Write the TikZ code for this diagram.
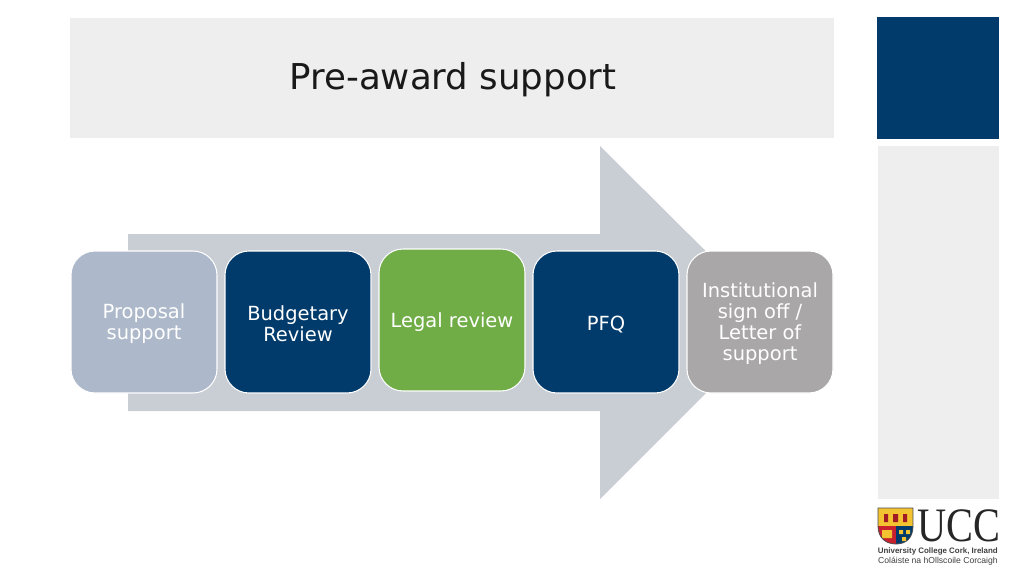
\documentclass[tikz,border=0pt]{standalone}
\usepackage{fontspec}
\setmainfont{DejaVu Sans}
\newfontfamily\logoserif{Liberation Serif}
\newfontfamily\logosans{Liberation Sans}
\usetikzlibrary{positioning}
\definecolor{uccblue}{HTML}{003B6B}
\definecolor{panelgrey}{HTML}{EEEEEE}
\definecolor{arrowgrey}{HTML}{C9CED4}
\definecolor{paleblue}{HTML}{ADB9CA}
\definecolor{legalgreen}{HTML}{70AD47}
\definecolor{signgrey}{HTML}{A9A7A8}
\definecolor{shieldyellow}{HTML}{F2C230}
\definecolor{shieldred}{HTML}{C8202F}
\newcommand{\stagetop}{\rule{0pt}{14pt}}

\begin{document}
\begin{tikzpicture}[x=0.75pt, y=-0.75pt, node distance=115.5pt]
	\tikzstyle{every node}=[text=white,font=\fontsize{14.6}{15.75}\selectfont,align=center]
	\tikzstyle{stage}=[draw=white,thick,rounded corners=18pt,minimum width=109.5pt,minimum height=106.5pt,inner sep=2pt]
	\tikzstyle{logoline}=[text=black!75,font=\logosans\fontsize{6.45}{7}\selectfont,anchor=east,inner sep=0pt]
	\useasboundingbox (0,0) rectangle (1024,576);
	\fill[white] (0,0) rectangle (1024,576);
	% panels
	\fill[panelgrey] (70,18) rectangle (834,138);
	\fill[uccblue] (877,17) rectangle (999,139);
	\fill[panelgrey] (878,146) rectangle (999,499);
	\node[text=black!90,font=\fontsize{26.7}{30}\selectfont] (title) at (453,80) {Pre-award support};
	% big arrow
	\fill[arrowgrey] (128,234) -- (600,234) -- (600,146) -- (777,322) -- (600,499) -- (600,411) -- (128,411) -- cycle;
	% stages
	\node[stage,fill=paleblue]      (A) at (144,322)  {\stagetop Proposal\\support};
	\node[stage,fill=uccblue]       (B)[right of=A]   {\stagetop Budgetary\\Review};
	\node[stage,fill=legalgreen]    (C)[right of=B,yshift=1.5pt]   {\stagetop Legal review};
	\node[stage,fill=uccblue]       (D)[right of=B,node distance=231pt]   {\stagetop PFQ};
	\node[stage,fill=signgrey]      (E)[right of=D]   {\stagetop Institutional\\sign off /\\Letter of\\support};
	% logo
	\fill[shieldyellow] (878,508) -- (913,508) -- (913,526) -- (878,526) -- cycle;
	\fill[shieldred] (878,526) -- (896,526) -- (896,544) .. controls (886,544) and (878,538) .. (878,526) -- cycle;
	\fill[uccblue] (896,526) -- (913,526) .. controls (913,538) and (906,544) .. (896,544) -- cycle;
	\fill[shieldred!80!black] (884,514) rectangle (888,522) (893,514) rectangle (898,522) (903,514) rectangle (907,522);
	\fill[shieldyellow] (882,530) rectangle (892,538) (899,530) rectangle (903,534) (906,530) rectangle (910,534) (902,537) rectangle (906,541);
	\draw[black!70,line width=0.6pt] (878,508) -- (913,508) -- (913,526) .. controls (913,538) and (906,544) .. (896,544) .. controls (886,544) and (878,538) .. (878,526) -- cycle;
	\node[text=black!85,font=\logoserif\fontsize{32}{32}\selectfont,xscale=0.945,yscale=1.125,inner sep=0pt] (ucc) at (958.5,526) {UCC};
	\node[logoline,font=\logosans\bfseries\fontsize{5.95}{7}\selectfont] (uni) at (998,551.5) {University College Cork, Ireland};
	\node[logoline] (irish) at (998,561.5) {Coláiste na hOllscoile Corcaigh};
\end{tikzpicture}
\end{document}
